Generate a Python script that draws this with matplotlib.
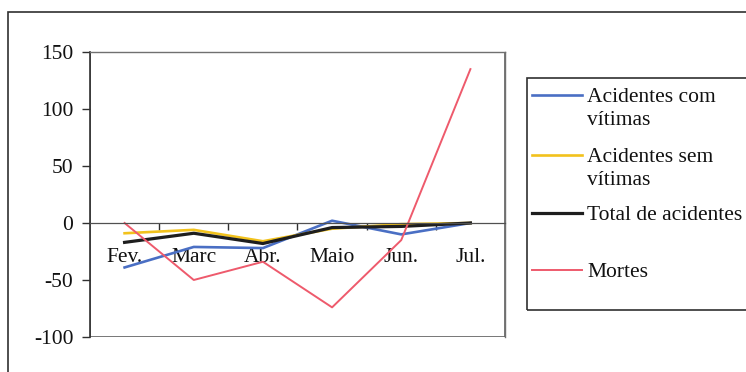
import matplotlib
matplotlib.use("Agg")
import matplotlib.pyplot as plt
from matplotlib.patches import Rectangle
from matplotlib.lines import Line2D

plt.rcParams['font.family'] = ['Liberation Serif', 'DejaVu Serif']
plt.rcParams['axes.unicode_minus'] = False

months = ["Fev.", "Marc", "Abr.", "Maio", "Jun.", "Jul."]
com_vitimas = [-39, -21, -22, 2, -10, 0]
sem_vitimas = [-9, -6, -16, -5, -1, 0]
total_acidentes = [-17, -9, -18, -4, -3, 0]
mortes = [0, -50, -34, -74, -15, 135]

series = [
    ("Acidentes com\nvítimas", com_vitimas, "#4a6fc4", 1.9),
    ("Acidentes sem\nvítimas", sem_vitimas, "#f2c21c", 1.9),
    ("Total de acidentes\n ", total_acidentes, "#1e1e1e", 2.3),
    ("Mortes", mortes, "#ee5a6c", 1.4),
]

FS = 15.5
W, H = 746, 372
fig = plt.figure(figsize=(W / 100, H / 100), dpi=100)

# outer chart frame (runs off the right and bottom edges)
fig.add_artist(Rectangle((8 / W, -0.1), 1.0, 1 - 12 / H + 0.1,
                         transform=fig.transFigure, fill=False,
                         edgecolor="#303030", linewidth=1.2))

ax = fig.add_axes([90 / W, 35 / H, 415 / W, 285 / H])
x = list(range(len(months)))
for label, vals, color, lw in series:
    ax.plot(x, vals, color=color, linewidth=lw, solid_joinstyle="round")

ax.set_xlim(-0.5, len(months) - 0.5)
ax.set_ylim(-100, 150)
ax.set_yticks([-100, -50, 0, 50, 100, 150])
ax.tick_params(axis="y", direction="out", length=6, width=1, colors="#303030",
               labelsize=FS, pad=6, labelcolor="#111111")

# category axis sits on zero
ax.spines["bottom"].set_position(("data", 0))
ax.spines["bottom"].set_color("#505050")
ax.spines["bottom"].set_linewidth(0.9)
ax.spines["left"].set_color("#303030")
ax.spines["left"].set_linewidth(1.2)
for s in ("top", "right"):
    ax.spines[s].set_color("#707070")
    ax.spines[s].set_linewidth(1.0)
ax.add_patch(Rectangle((0, 0), 1, 1, transform=ax.transAxes, fill=False,
                       edgecolor="#606060", linewidth=1.2, zorder=0.5))

ax.set_xticks([i + 0.5 for i in range(len(months) - 1)])
ax.set_xticklabels([])
ax.tick_params(axis="x", which="major", direction="out", length=5,
               width=1, colors="#303030")
ax.set_xticks(x, minor=True)
ax.set_xticklabels(months, minor=True)
ax.tick_params(axis="x", which="minor", length=0, pad=18, labelsize=FS,
               labelcolor="#111111")

# legend box
fig.add_artist(Rectangle((527 / W, 1 - 310 / H), 0.5, (310 - 78) / H,
                         transform=fig.transFigure, fill=False,
                         edgecolor="#303030", linewidth=1.2))
handle_y = [95, 155, 213, 270]
for (label, vals, color, lw), yy in zip(series, handle_y):
    fy = 1 - yy / H
    fig.add_artist(Line2D([532 / W, 582 / W], [fy, fy], transform=fig.transFigure,
                          color=color, linewidth=lw))
    fig.text(587 / W, 1 - (yy - 7) / H, label, fontsize=FS, va="top", ha="left",
             color="#111111", linespacing=1.3)

fig.savefig("out.png", dpi=100)
